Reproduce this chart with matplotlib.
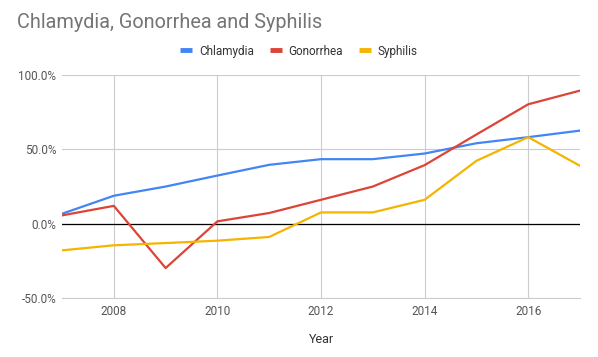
import matplotlib.pyplot as plt
from matplotlib.ticker import FuncFormatter

plt.rcParams["font.family"] = ["Roboto", "DejaVu Sans"]

years = list(range(2007, 2018))
chlamydia = [6.7, 18.8, 25.0, 32.4, 39.6, 43.4, 43.4, 47.2, 54.1, 58.2, 62.6]
gonorrhea = [5.6, 12.0, -29.8, 1.6, 7.2, 16.1, 25.0, 39.4, 60.0, 80.3, 89.5]
syphilis = [-17.9, -14.5, -13.0, -11.4, -8.9, 7.6, 7.6, 16.1, 42.3, 58.2, 38.9]

series = [
    ("Chlamydia", chlamydia, "#4285F4"),
    ("Gonorrhea", gonorrhea, "#DB4437"),
    ("Syphilis", syphilis, "#F4B400"),
]
x_ticks = [2008, 2010, 2012, 2014, 2016]
y_ticks = [-50, 0, 50, 100]

fig = plt.figure(figsize=(5.98, 3.57), dpi=100)
ax = fig.add_axes([0.1037, 0.165, 0.8663, 0.625])

for name, vals, color in series:
    ax.plot(years, vals, color=color, lw=1.6, label=name, solid_capstyle="round")

ax.set_xlim(2007, 2017)
ax.set_ylim(-50, 100)
ax.set_xticks(x_ticks)
ax.set_yticks(y_ticks)
ax.yaxis.set_major_formatter(FuncFormatter(lambda v, _: f"{v:.1f}%"))
ax.grid(True, color="#cccccc", lw=0.8)
ax.set_axisbelow(True)
ax.axhline(0, color="black", lw=0.9, zorder=1.5)

for side in ["top", "right", "left"]:
    ax.spines[side].set_visible(False)
ax.spines["bottom"].set_color("#cccccc")
ax.tick_params(length=0, labelsize=8.5, colors="#555555")
ax.tick_params(axis="x", pad=5)
ax.tick_params(axis="y", pad=4)

ax.set_xlabel("Year", fontsize=9, color="#333333", labelpad=11)

fig.text(0.028, 0.938, "Chlamydia, Gonorrhea and Syphilis", fontsize=14.3,
         color="#757575", va="center", ha="left")

fig.legend(loc="center", bbox_to_anchor=(0.5, 0.857), ncol=3, frameon=False,
           fontsize=8.5, handlelength=1.0, handletextpad=0.6, columnspacing=1.35,
           labelcolor="#333333")
for h in fig.legends[0].legend_handles:
    h.set_linewidth(3.5)
    h.set_solid_capstyle("butt")

fig.savefig("out.png", dpi=100)
